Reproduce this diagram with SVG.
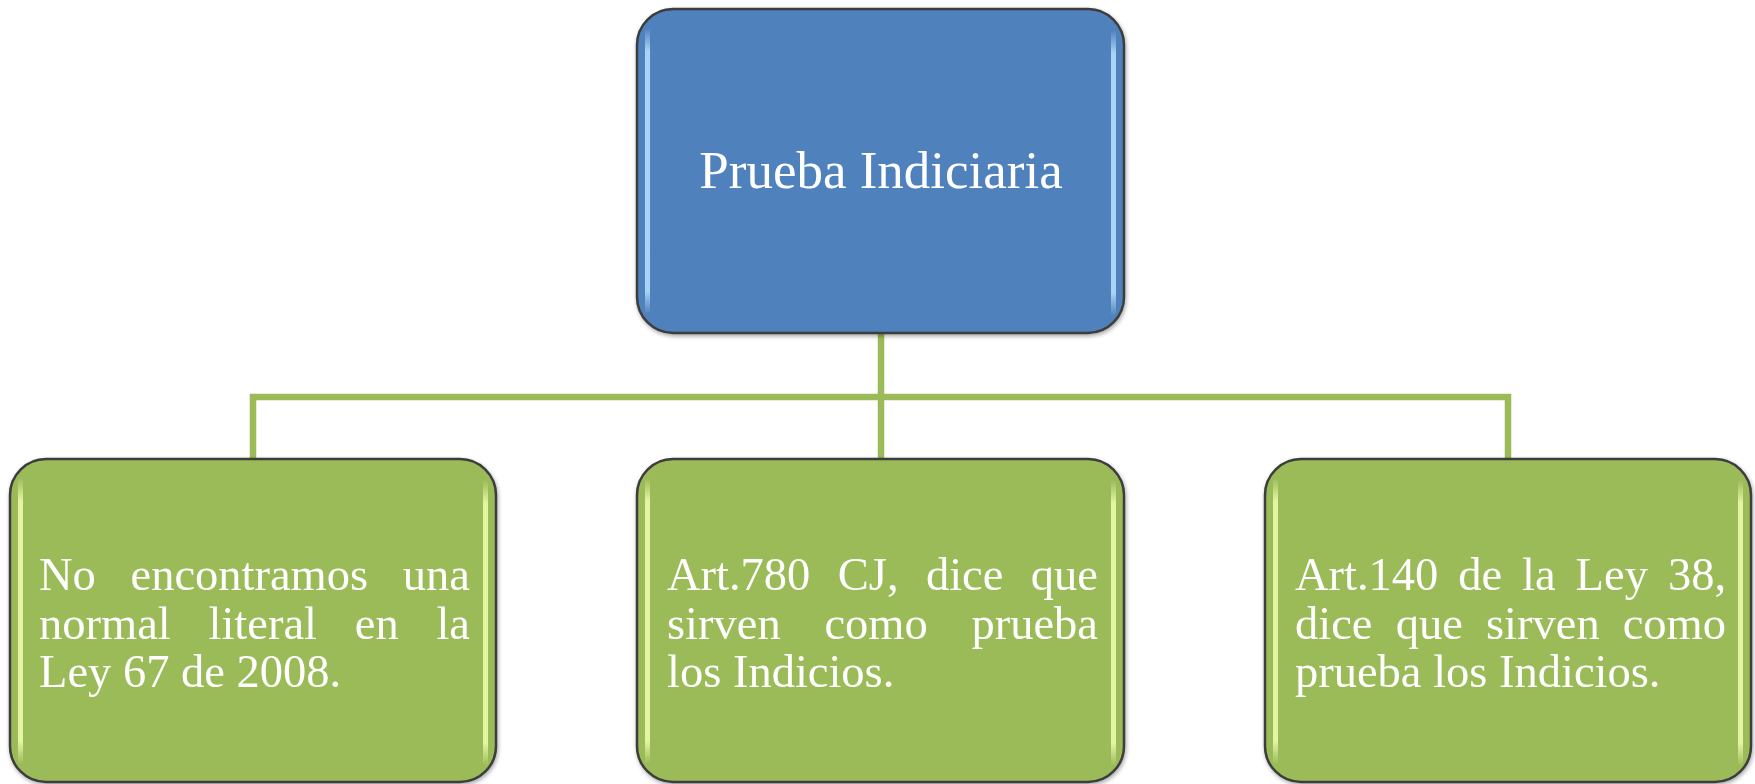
<svg xmlns="http://www.w3.org/2000/svg" width="1755" height="784" viewBox="0 0 1755 784">
<style>
.box{stroke:#3c3c3c;stroke-width:2.5}
.blue{fill:#4f81bd}
.green{fill:#9bbb59}
.conn{fill:none;stroke:#9bbb59;stroke-width:6.5;stroke-linecap:square}
.t{font-family:"Liberation Serif","Times New Roman",serif;fill:#ffffff}
.title{font-size:53px}
.body{font-size:46.5px}
.hlB{fill:url(#gB)}
.hlG{fill:url(#gG)}
</style>
<defs>
<linearGradient id="gB" x1="0" y1="0" x2="0" y2="1">
<stop offset="0" stop-color="#b9e2ff" stop-opacity="0"/>
<stop offset="0.08" stop-color="#b9e2ff" stop-opacity="0.85"/>
<stop offset="0.92" stop-color="#b9e2ff" stop-opacity="0.85"/>
<stop offset="1" stop-color="#b9e2ff" stop-opacity="0"/>
</linearGradient>
<linearGradient id="gG" x1="0" y1="0" x2="0" y2="1">
<stop offset="0" stop-color="#f0ffb0" stop-opacity="0"/>
<stop offset="0.08" stop-color="#f0ffb0" stop-opacity="0.85"/>
<stop offset="0.92" stop-color="#f0ffb0" stop-opacity="0.85"/>
<stop offset="1" stop-color="#f0ffb0" stop-opacity="0"/>
</linearGradient>
<filter id="sh" x="-5%" y="-5%" width="110%" height="110%">
<feGaussianBlur in="SourceAlpha" stdDeviation="2"/>
<feOffset dx="1" dy="2"/>
<feComponentTransfer><feFuncA type="linear" slope="0.35"/></feComponentTransfer>
<feMerge><feMergeNode/><feMergeNode in="SourceGraphic"/></feMerge>
</filter>
</defs>
<rect width="1755" height="784" fill="#ffffff"/>
<g id="connectors">
<path class="conn" d="M881 334 V459"/>
<path class="conn" d="M253 459 V397 H1508 V459"/>
</g>
<g id="node-top" filter="url(#sh)">
<rect class="box blue" x="637" y="9" width="487" height="324" rx="36"/>
<rect class="hlB" x="645" y="28" width="5" height="286" rx="2.5"/>
<rect class="hlB" x="1111" y="30" width="5" height="286" rx="2.5"/>
<text class="t title" x="881" y="188" text-anchor="middle">Prueba Indiciaria</text>
</g>
<g id="node-left" filter="url(#sh)">
<rect class="box green" x="10" y="459" width="486" height="323" rx="36"/>
<rect class="hlG" x="18" y="478" width="5" height="286" rx="2.5"/>
<rect class="hlG" x="483" y="480" width="5" height="286" rx="2.5"/>
<text class="t body"><tspan x="39" y="590">No</tspan><tspan x="130.5" y="590">encontramos</tspan><tspan x="470" y="590" text-anchor="end">una</tspan></text>
<text class="t body"><tspan x="39" y="638.5">normal</tspan><tspan x="208.5" y="638.5">literal</tspan><tspan x="354.8" y="638.5">en</tspan><tspan x="470" y="638.5" text-anchor="end">la</tspan></text>
<text class="t body" x="39" y="687">Ley 67 de 2008.</text>
</g>
<g id="node-middle" filter="url(#sh)">
<rect class="box green" x="637" y="459" width="487" height="323" rx="36"/>
<rect class="hlG" x="645" y="478" width="5" height="286" rx="2.5"/>
<rect class="hlG" x="1111" y="480" width="5" height="286" rx="2.5"/>
<text class="t body"><tspan x="667" y="590">Art.780</tspan><tspan x="837.8" y="590">CJ,</tspan><tspan x="925.9" y="590">dice</tspan><tspan x="1098" y="590" text-anchor="end">que</tspan></text>
<text class="t body"><tspan x="667" y="638.5">sirven</tspan><tspan x="824.4" y="638.5">como</tspan><tspan x="1098" y="638.5" text-anchor="end">prueba</tspan></text>
<text class="t body" x="667" y="687">los Indicios.</text>
</g>
<g id="node-right" filter="url(#sh)">
<rect class="box green" x="1265" y="459" width="486" height="323" rx="36"/>
<rect class="hlG" x="1273" y="478" width="5" height="286" rx="2.5"/>
<rect class="hlG" x="1738" y="480" width="5" height="286" rx="2.5"/>
<text class="t body"><tspan x="1295" y="590">Art.140</tspan><tspan x="1458.3" y="590">de</tspan><tspan x="1522.1" y="590">la</tspan><tspan x="1575.6" y="590">Ley</tspan><tspan x="1726" y="590" text-anchor="end">38,</tspan></text>
<text class="t body"><tspan x="1295" y="638.5">dice</tspan><tspan x="1395.7" y="638.5">que</tspan><tspan x="1486" y="638.5">sirven</tspan><tspan x="1726" y="638.5" text-anchor="end">como</tspan></text>
<text class="t body" x="1295" y="687">prueba los Indicios.</text>
</g>
</svg>
